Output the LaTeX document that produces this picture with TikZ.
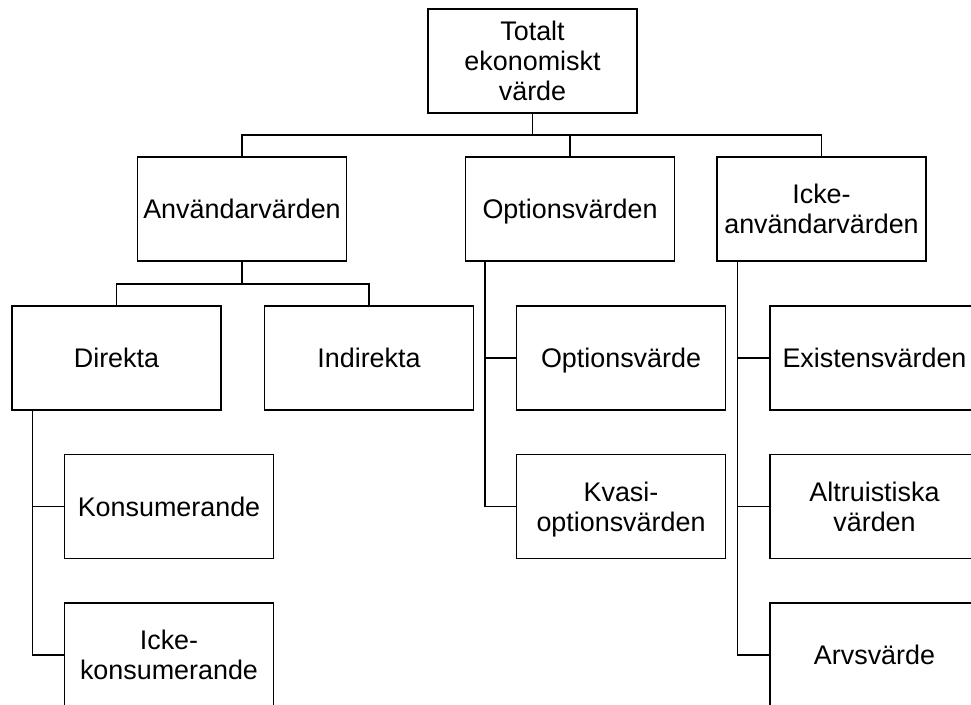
\documentclass[tikz,border=0pt]{standalone}
\usepackage{fontspec}
\setmainfont{Liberation Sans}
\begin{document}
\begin{tikzpicture}[x=1pt,y=-1pt,
  box/.style={draw,line width=1.5pt,minimum width=209pt,minimum height=104pt,
    inner sep=2pt,align=center,text depth=0pt,font=\fontsize{26.9}{30}\selectfont},
  link/.style={line width=1.5pt}]
\useasboundingbox (0,0) rectangle (971,704);

% top level
\node[box] (tev) at (532.5,61) {Totalt\\ekonomiskt\\värde};

% second level
\node[box] (anv) at (242,209) {Användarvärden};
\node[box] (opt) at (570,209) {Optionsvärden};
\node[box] (icke) at (821.5,209) {Icke-\\användarvärden};

% third level
\node[box] (dir) at (116.5,358) {Direkta};
\node[box] (ind) at (369,358) {Indirekta};
\node[box] (optv) at (621,358) {Optionsvärde};
\node[box] (exi) at (874.5,358) {Existensvärden};

\node[box] (kons) at (169,506.5) {Konsumerande};
\node[box] (kvasi) at (621,506.5) {Kvasi-\\optionsvärden};
\node[box] (altr) at (874.5,506.5) {Altruistiska\\värden};

\node[box] (ikons) at (169,655) {Icke-\\konsumerande};
\node[box] (arv) at (874.5,655) {Arvsvärde};

% bus lines
\coordinate (b1) at (0,135);
\coordinate (b2) at (0,284);
\draw[link] (tev.south) -- (tev.south |- b1);
\draw[link] (anv.north) |- (b1 -| icke.north) -- (icke.north);
\draw[link] (opt.north) -- (opt.north |- b1);

\draw[link] (anv.south) -- (anv.south |- b2);
\draw[link] (dir.north) |- (b2 -| ind.north) -- (ind.north);

% side spines
\coordinate (s1) at ([xshift=21pt]dir.south west);
\draw[link] (s1) |- (ikons.west);
\draw[link] (s1 |- kons.west) -- (kons.west);

\coordinate (s2) at ([xshift=20pt]opt.south west);
\draw[link] (s2) |- (kvasi.west);
\draw[link] (s2 |- optv.west) -- (optv.west);

\coordinate (s3) at ([xshift=21pt]icke.south west);
\draw[link] (s3) |- (arv.west);
\draw[link] (s3 |- exi.west) -- (exi.west);
\draw[link] (s3 |- altr.west) -- (altr.west);
\end{tikzpicture}
\end{document}
